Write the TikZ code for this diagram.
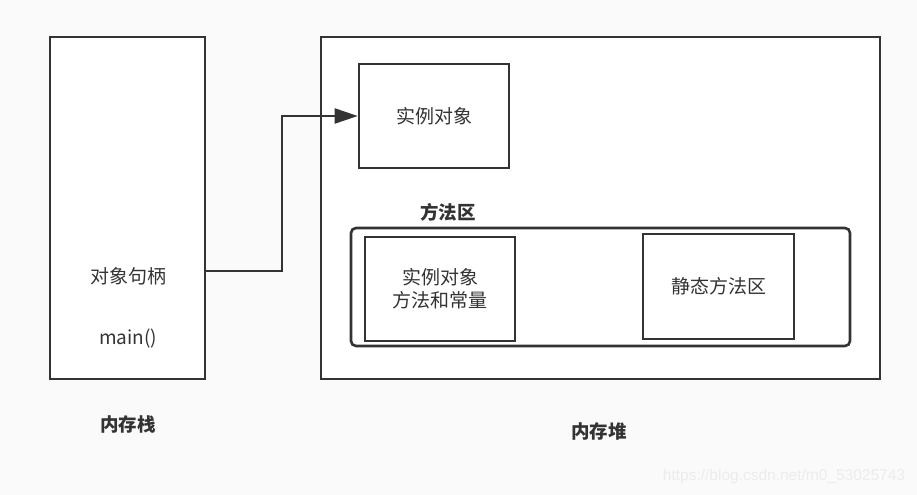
\documentclass[tikz,border=0pt]{standalone}
\usepackage{fontspec}
\setmainfont{Noto Sans CJK SC}
\newfontfamily\markfont{Liberation Sans}
\usetikzlibrary{arrows.meta}
\definecolor{linegray}{HTML}{333333}
\definecolor{bggray}{HTML}{FAFAFA}
\tikzset{
    box/.style={draw=linegray, line width=2.6bp, fill=white, inner sep=0pt},
    txt/.style={text=linegray, font=\fontsize{19bp}{23bp}\selectfont, align=center, inner sep=0pt},
    title/.style={text=linegray, font=\fontsize{18.5bp}{22bp}\selectfont\bfseries, inner sep=0pt},
    link/.style={draw=linegray, line width=2.2bp, -{Triangle[length=23bp,width=15bp]}}
}

\begin{document}
\begin{tikzpicture}[x=1bp, y=-1bp]
    % page and margins
    \fill[bggray] (0,0) rectangle (917,495);
    \useasboundingbox (0,0) rectangle (917,495);
    % stack
    \node [box, minimum width=155bp, minimum height=342bp] (stack) at (127.5,208) {};
    \node [txt] (handle) at (128,276) {对象句柄};
    \node [txt] (main) at (128,339) {main()};
    \node [title] (stacktitle) at (128,424) {内存栈};
    % heap
    \node [box, minimum width=559bp, minimum height=342bp] (heap) at (600.5,208) {};
    \node [box, minimum width=150bp, minimum height=104bp] (obj) at (434,116) {};
    \node [txt] (objtext) at (obj) {实例对象};
    \node [title] (areatitle) at (448,212) {方法区};
    \node [box, rounded corners=5bp, minimum width=499bp, minimum height=118bp] (area) at (600.5,287) {};
    \node [box, minimum width=150bp, minimum height=104bp] (objmeth) at (440,289) {};
    \node [txt] (objmethtext) at (objmeth) {实例对象\\方法和常量};
    \node [box, minimum width=151bp, minimum height=105bp] (static) at (718.5,286.5) {};
    \node [txt] (statictext) at (static) {静态方法区};
    \node [title] (heaptitle) at (599,431) {内存堆};
    % handle -> object
    \coordinate (h) at (205,271);
    \draw [link] (h) -- ++(77,0) |- (obj.west);
    \node [text=gray!15, font=\markfont\fontsize{15.5bp}{18bp}\selectfont, inner sep=0pt] (mark) at (784,476) {https://blog.csdn.net/m0\_53025743};
\end{tikzpicture}
\end{document}
